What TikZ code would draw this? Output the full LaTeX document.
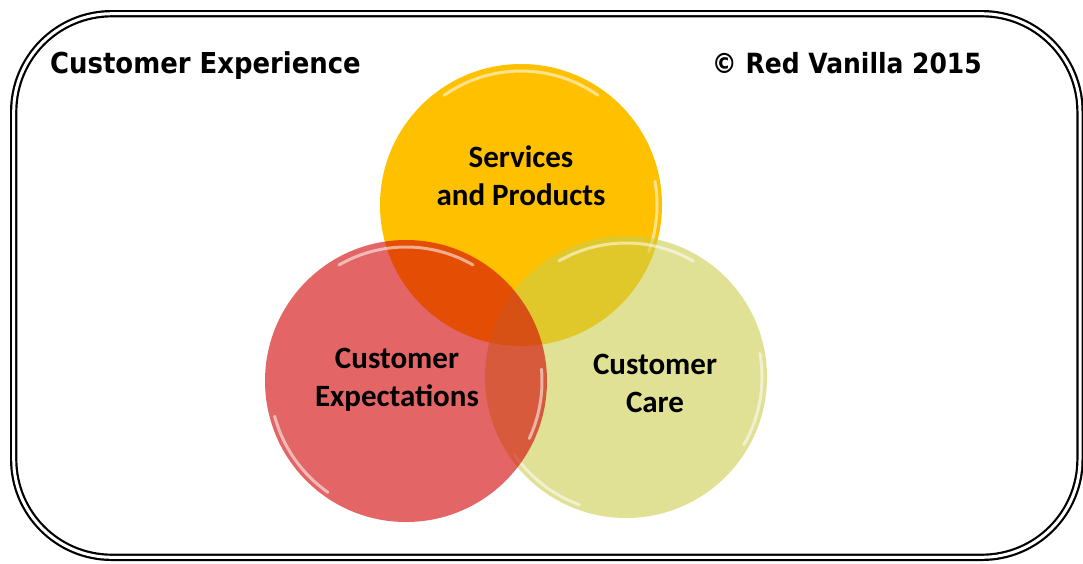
\documentclass[tikz,border=0pt]{standalone}
\usepackage{fontspec}
\newfontfamily\titlefont{DejaVu Sans Condensed}
\newfontfamily\circfont{Carlito}
\definecolor{gold}{RGB}{255,192,0}
\definecolor{redc}{RGB}{211,8,8}
\definecolor{yelc}{RGB}{202,205,74}
\begin{document}
\begin{tikzpicture}[x=1pt,y=-1pt,
  frame/.style={draw=black, double=white, double distance=3pt, line width=2.2pt, rounded corners=98pt},
  venn/.style={circle, minimum size=282pt, inner sep=0pt},
  gloss/.style={white, line width=3pt, line cap=round, opacity=0.55},
  title/.style={font=\titlefont\bfseries\fontsize{28.8}{32}\selectfont, inner sep=0pt},
  label/.style={font=\circfont\bfseries\fontsize{31}{38}\selectfont, align=center, inner sep=0pt}]
\useasboundingbox (0,0) rectangle (1083,563);
\fill[white] (0,0) rectangle (1083,563);
\coordinate (f1) at (13.7,13.7);
\coordinate (f2) at (1080,557.3);
\draw[frame] (f1) rectangle (f2);
% circles
\node[venn, fill=gold] (sp) at (521,205) {};
\draw[gloss] (sp.center) ++(-55:134) arc[start angle=-55, end angle=-125, radius=134];
\draw[gloss] (sp.center) ++(20:136) arc[start angle=20, end angle=-10, radius=136];
\node[venn, fill=yelc, fill opacity=0.58] (cc) at (626,377) {};
\draw[gloss] (cc.center) ++(-60:134) arc[start angle=-60, end angle=-120, radius=134];
\draw[gloss] (cc.center) ++(30:136) arc[start angle=30, end angle=-10, radius=136];
\draw[gloss] (cc.center) ++(-215:136) arc[start angle=-215, end angle=-250, radius=136];
\node[venn, fill=redc, fill opacity=0.62] (ce) at (406,381) {};
\draw[gloss] (ce.center) ++(-60:134) arc[start angle=-60, end angle=-120, radius=134];
\draw[gloss] (ce.center) ++(-195:136) arc[start angle=-195, end angle=-235, radius=136];
\draw[gloss] (ce.center) ++(25:136) arc[start angle=25, end angle=-5, radius=136];
% texts
\node[title, anchor=base west] (t1) at (50,73) {Customer Experience};
\node[title, anchor=base east, font=\titlefont\bfseries\fontsize{27.8}{32}\selectfont] (t2) at (982,73) {© Red Vanilla 2015};
\node[label] (l1) at (521,176) {Services\\and Products};
\node[label] (l2) at (397,380) {Customer\\Expectations};
\node[label] (l3) at (655,383) {Customer\\Care};
\end{tikzpicture}
\end{document}
